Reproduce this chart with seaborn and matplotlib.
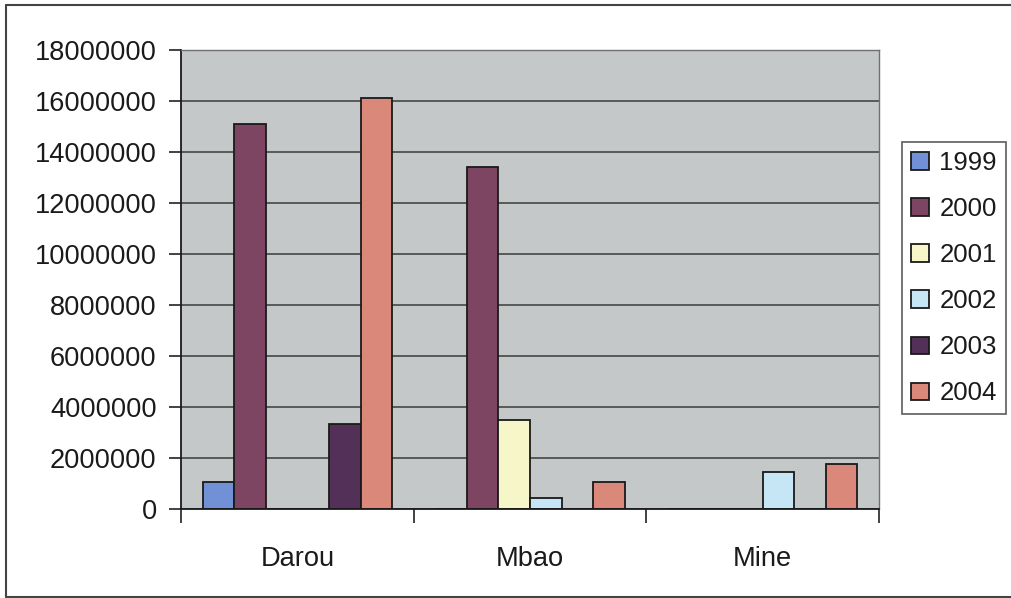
import matplotlib
matplotlib.use("Agg")
import matplotlib.pyplot as plt
import seaborn as sns
import pandas as pd
from matplotlib.lines import Line2D

sites = ["Darou", "Mbao", "Mine"]
years = ["1999", "2000", "2001", "2002", "2003", "2004"]
v1999 = [1050000, 0, 0]
v2000 = [15100000, 13400000, 0]
v2001 = [0, 3480000, 0]
v2002 = [0, 430000, 1450000]
v2003 = [3350000, 0, 0]
v2004 = [16100000, 1060000, 1750000]
colors = ["#7290d6", "#7e4563", "#f6f6c8", "#c6e6f6", "#523058", "#d9887a"]
yticks = list(range(0, 18000001, 2000000))

series = [v1999, v2000, v2001, v2002, v2003, v2004]
rows = []
for y, vals in zip(years, series):
    for s, v in zip(sites, vals):
        rows.append({"site": s, "year": y, "value": v})
df = pd.DataFrame(rows)

sns.set_theme(style="white")
plt.rcParams["font.family"] = ["Liberation Sans", "DejaVu Sans"]

fig = plt.figure(figsize=(10.11, 5.98), dpi=100)
W, H = 1011, 598
ax = fig.add_axes([181 / W, 1 - 509 / H, (879 - 181) / W, (509 - 50) / H])
ax.set_facecolor("#c4c8c8")

sns.barplot(data=df, x="site", y="value", hue="year", hue_order=years,
            order=sites, palette=colors, saturation=1, width=0.815,
            edgecolor="#1a1a1a", linewidth=1.3, ax=ax, legend=True)

ax.set_ylim(0, 18000000)
ax.set_xlim(-0.5, 2.5)
ax.set_yticks(yticks)
ax.set_yticklabels([str(t) for t in yticks], fontsize=19.6, color="#1a1a1a")
ax.set_xticks([0, 1, 2])
ax.set_xticklabels(sites, fontsize=19.6, color="#1a1a1a")
ax.set_xticks([-0.5, 0.5, 1.5, 2.5], minor=True)
ax.tick_params(axis="x", which="major", length=0, pad=27)
ax.tick_params(axis="x", which="minor", length=10, width=1.2, color="#222222", bottom=True)
ax.tick_params(axis="y", length=9, width=1.2, color="#222222", pad=8.5, left=True)
ax.set_xlabel("")
ax.set_ylabel("")
ax.yaxis.grid(True, color="#3a3a3a", linewidth=1.1)
ax.set_axisbelow(True)
for side in ["left", "bottom"]:
    ax.spines[side].set_color("#1a1a1a")
    ax.spines[side].set_linewidth(1.3)
for side in ["top", "right"]:
    ax.spines[side].set_color("#707070")
    ax.spines[side].set_linewidth(1.0)

handles, labels = ax.get_legend_handles_labels()
ax.get_legend().remove()
leg = fig.legend(handles, labels, loc="upper left",
                 bbox_to_anchor=(902 / W, 1 - 142 / H), fontsize=18.5,
                 frameon=True, fancybox=False, shadow=False,
                 handlelength=0.72, handleheight=0.68, handletextpad=0.38,
                 labelspacing=0.86, borderpad=0.35, borderaxespad=0)
leg.get_frame().set_edgecolor("#333333")
leg.get_frame().set_linewidth(1.2)
for t in leg.get_texts():
    t.set_color("#1a1a1a")

# figure border
for xs, ys in [((6, 1011), (5, 5)), ((6, 6), (5, 597)), ((6, 1011), (597, 597))]:
    fig.add_artist(Line2D([x / W for x in xs], [1 - y / H for y in ys],
                          color="#444444", linewidth=1.5))

fig.savefig("out.png", dpi=100)
